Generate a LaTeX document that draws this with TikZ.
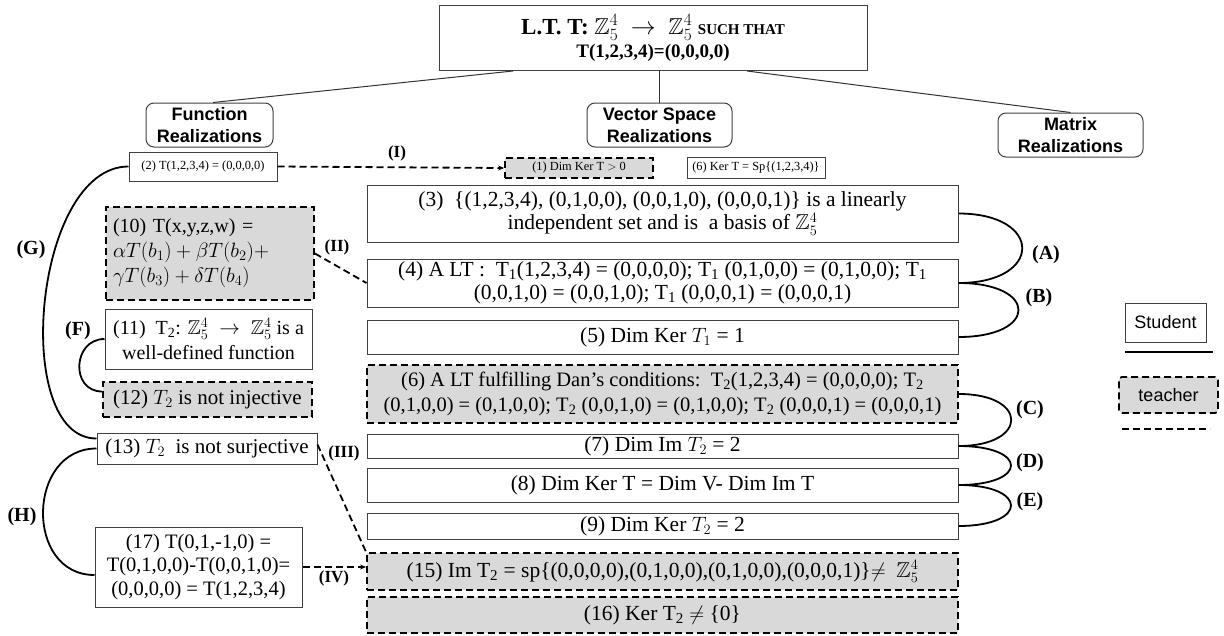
\documentclass[tikz,border=0pt]{standalone}
\usepackage{amsmath,amssymb}
\usepackage{fontspec}
\setmainfont{Liberation Serif}
\newfontfamily\hdrfont{Liberation Sans}
\usetikzlibrary{arrows.meta}
\newcommand\TOne{T\textsubscript{1}}
\newcommand\TTwo{T\textsubscript{2}}
\newcommand\ZZ{\mathbb{Z}_5^4}
\begin{document}
\begin{tikzpicture}[x=1pt,y=-1pt,
 sbox/.style={draw=black!75, line width=1pt, fill=white, inner sep=0pt, align=center, font=\fontsize{21}{23}\selectfont},
 tbox/.style={draw=black, line width=1.8pt, dash pattern=on 7pt off 4pt, fill=black!15, inner sep=0pt, align=center, font=\fontsize{21}{23}\selectfont},
 mainf/.style={font=\fontsize{21.5}{23}\selectfont},
 hbox/.style={draw=black!75, line width=1pt, rounded corners=8pt, inner sep=0pt, align=center, font=\hdrfont\bfseries\fontsize{18}{22}\selectfont},
 smallf/.style={font=\fontsize{12.4}{14}\selectfont},
 arcline/.style={line width=1.8pt},
 dline/.style={line width=1.8pt, dash pattern=on 7pt off 4pt},
 lab/.style={font=\bfseries\fontsize{20}{23}\selectfont, inner sep=0pt},
 rlab/.style={font=\bfseries\fontsize{17}{20}\selectfont, inner sep=0pt},
 conn/.style={draw=black!80, line width=1pt},
 tip/.style={-{Stealth[length=6pt,width=5pt]}}
]
\useasboundingbox (0,0) rectangle (1224,635);

% title
\node[sbox, font=\bfseries, minimum width=428, minimum height=65] (top) at (653,38)
 {{\fontsize{23}{26}\selectfont L.T. T: $\ZZ\ \rightarrow\ \ZZ$ {\fontsize{15}{18}\selectfont SUCH THAT}}\\[3pt]
  {\fontsize{19}{22}\selectfont T(1,2,3,4)=(0,0,0,0)}};

% headers
\node[hbox, minimum width=127, minimum height=44] (fr) at (209.5,125) {Function\\Realizations};
\node[hbox, minimum width=145, minimum height=44] (vr) at (659.5,125) {Vector Space\\Realizations};
\node[hbox, minimum width=145, minimum height=44] (mr) at (1070.5,135) {Matrix\\Realizations};

\draw[conn] ([xshift=-140pt]top.south) -- ([xshift=3.5pt]fr.north);
\draw[conn] (vr.north |- top.south) -- (vr.north);
\draw[conn] ([xshift=94pt]top.south) -- (mr.north);

% small boxes
\node[sbox, smallf, minimum width=148, minimum height=29] (n2) at (203,166.5) {(2) T(1,2,3,4) = (0,0,0,0)};
\node[tbox, smallf, minimum width=148, minimum height=20] (n1) at (579,168) {(1) Dim Ker T $>$ 0};
\node[sbox, smallf, minimum width=138, minimum height=21] (n6k) at (756,167.5) {(6) Ker T = Sp\{(1,2,3,4)\}};

% main column
\node[sbox, mainf, minimum width=591, minimum height=57] (n3) at (662.5,213.5)
 {(3)\ \ \{(1,2,3,4), (0,1,0,0), (0,0,1,0), (0,0,0,1)\} is a linearly\\ independent set and is\ \ a basis of $\ZZ$};
\node[sbox, mainf, minimum width=591, minimum height=48] (n4) at (662.5,283)
 {(4) A LT :\ \ \TOne(1,2,3,4) = (0,0,0,0); \TOne\ (0,1,0,0) = (0,1,0,0); \TOne\\ (0,0,1,0) = (0,0,1,0); \TOne\ (0,0,0,1) = (0,0,0,1)};
\node[sbox, mainf, minimum width=591, minimum height=34] (n5) at (662.5,337) {(5) Dim Ker $T_1$ = 1};
\node[tbox, minimum width=591, minimum height=58, font=\fontsize{20.5}{25}\selectfont] (n6) at (662.5,394)
 {(6) A LT fulfilling Dan’s conditions:\ \ \TTwo(1,2,3,4) = (0,0,0,0); \TTwo\\ (0,1,0,0) = (0,1,0,0); \TTwo\ (0,0,1,0) = (0,1,0,0); \TTwo\ (0,0,0,1) = (0,0,0,1)};
\node[sbox, mainf, minimum width=591, minimum height=24] (n7) at (662.5,446) {(7) Dim Im $T_2$ = 2};
\node[sbox, mainf, minimum width=591, minimum height=34] (n8) at (662.5,485) {(8) Dim Ker T = Dim V- Dim Im T};
\node[sbox, mainf, minimum width=591, minimum height=26] (n9) at (662.5,526) {(9) Dim Ker $T_2$ = 2};
\node[tbox, mainf, minimum width=591, minimum height=37] (n15) at (662.5,571.5)
 {(15) Im \TTwo\ = sp\{(0,0,0,0),(0,1,0,0),(0,1,0,0),(0,0,0,1)\}$\neq$\ \ $\ZZ$};
\node[tbox, mainf, minimum width=591, minimum height=36] (n16) at (662.5,615) {(16) Ker \TTwo\ $\neq$ \{0\}};

% left column
\node[tbox, minimum width=208, minimum height=93, text width=194, align=left, font=\fontsize{20}{25}\selectfont] (n10) at (210,253.5)
 {(10) T(x,y,z,w) =\\ $\alpha T(b_1) + \beta T(b_2) +$\\ $\gamma T(b_3) + \delta T(b_4)$};
\node[sbox, minimum width=207, minimum height=60, font=\fontsize{20}{25}\selectfont] (n11) at (208.5,339)
 {(11)\ \ \TTwo: $\ZZ\ \rightarrow\ \ZZ$ is a\\ well-defined function};
\node[tbox, minimum width=209, minimum height=35] (n12) at (207.5,399.5) {(12) $T_2$ is not injective};
\node[sbox, minimum width=220, minimum height=31] (n13) at (207,448.5) {(13) $T_2$\ \ is not surjective};
\node[sbox, minimum width=207, minimum height=80, font=\fontsize{20.5}{23.5}\selectfont] (n17) at (198.5,567)
 {(17) T(0,1,-1,0) =\\ T(0,1,0,0)-T(0,0,1,0)=\\ (0,0,0,0) = T(1,2,3,4)};

% dashed links
\draw[dline, tip] (n2.east) -- (n1.west);
\node[rlab] (lI) at (397,153) {(I)};
\draw[dline] (n10.east) -- (n4.west);
\node[rlab] (lII) at (337,247) {(II)};
\draw[dline] ([yshift=4pt]n13.east) -- (n15.north west);
\node[rlab] (lIII) at (344,453) {(III)};
\draw[dline, tip] (n17.east) -- (n17.east -| n15.west);
\node[rlab] (lIV) at (334,578) {(IV)};

% right arcs
\draw[arcline] (n3.east) .. controls +(85,0) and +(85,0) .. (n4.east);
\draw[arcline] (n4.east) .. controls +(80,0) and +(80,0) .. (n5.east);
\draw[arcline] (n6.east) .. controls +(70,0) and +(70,0) .. (n7.east);
\draw[arcline] (n7.east) .. controls +(70,0) and +(70,0) .. (n8.east);
\draw[arcline] (n8.east) .. controls +(70,0) and +(70,0) .. (n9.east);
\node[lab] (lA) at (1046,255) {(A)};
\node[lab] (lB) at (1039,298) {(B)};
\node[lab] (lC) at (1030,410) {(C)};
\node[lab] (lD) at (1030,463) {(D)};
\node[lab] (lE) at (1030,502) {(E)};

% left arcs
\draw[arcline] (n2.west) .. controls +(-95,0) and +(-86,0) .. ([yshift=10pt]n13.west);
\draw[arcline] (n11.west) .. controls +(-32,0) and +(-32,0) .. ([yshift=8pt]n12.west);
\draw[arcline] (n13.west) .. controls +(-70,0) and +(-70,0) .. ([yshift=-8pt]n17.west);
\node[lab] (lG) at (31,250) {(G)};
\node[lab] (lF) at (78,331) {(F)};
\node[lab] (lH) at (22,517) {(H)};

% legend
\node[sbox, font=\hdrfont\fontsize{18}{22}\selectfont, minimum width=81, minimum height=39] (stu) at (1165.5,322.5) {Student};
\coordinate (s1) at (1125,352);
\coordinate (s2) at (1213,352);
\draw[line width=2.4pt] (s1) -- (s2);
\node[tbox, rounded corners=3pt, font=\hdrfont\fontsize{18}{22}\selectfont, minimum width=99, minimum height=36] (tea) at (1168.5,395) {teacher};
\coordinate (t1) at (1122,429);
\coordinate (t2) at (1210,429);
\draw[dline, line width=2.2pt] (t1) -- (t2);
\end{tikzpicture}
\end{document}
